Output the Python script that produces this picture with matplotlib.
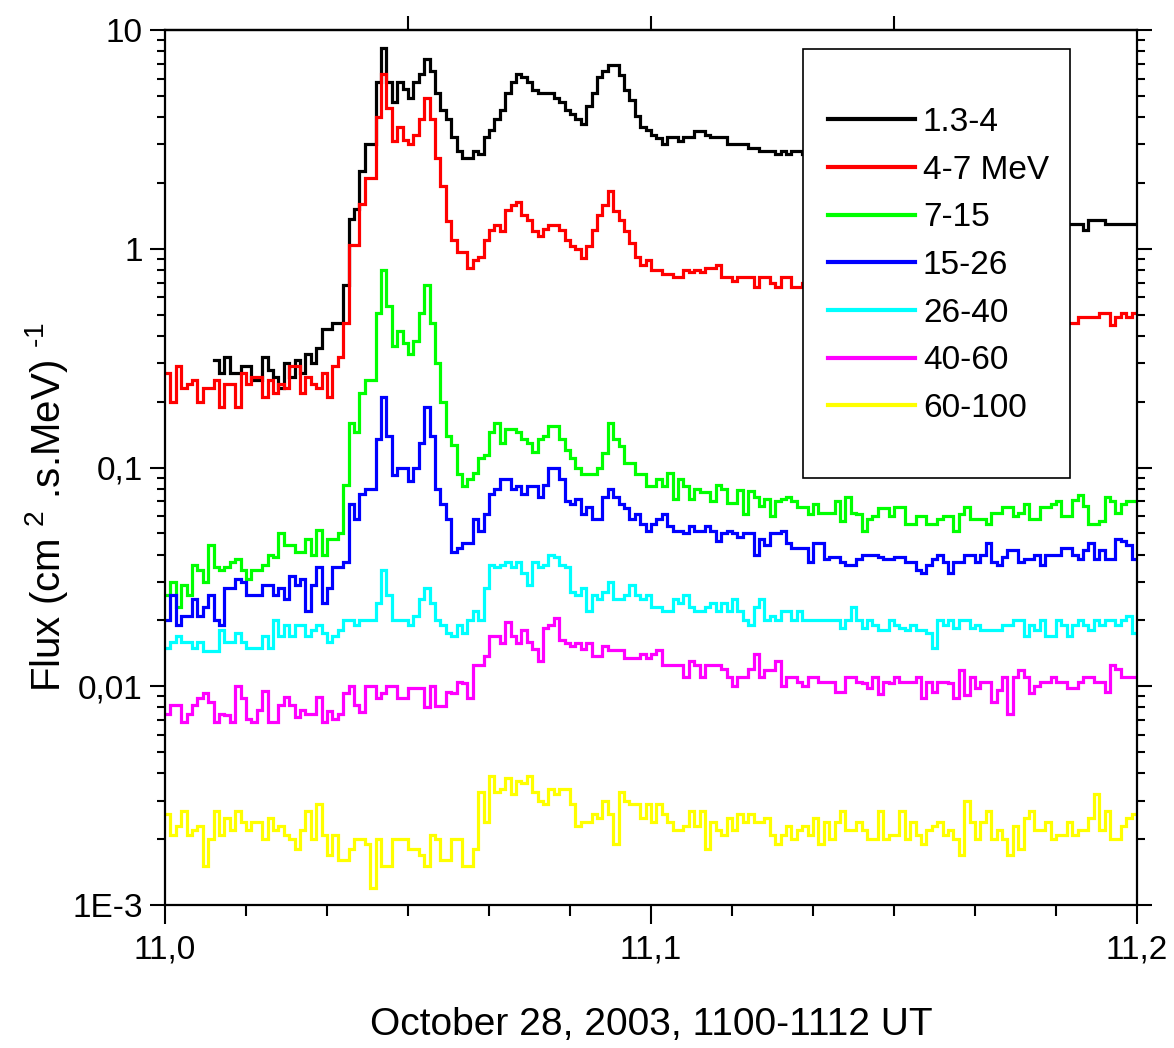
import numpy as np
import matplotlib
matplotlib.use("Agg")
import matplotlib.pyplot as plt
from matplotlib.patches import Rectangle
from matplotlib.ticker import FixedLocator, NullFormatter, FixedFormatter, LogLocator

plt.rcParams['font.family'] = ['Liberation Sans', 'DejaVu Sans']
plt.rcParams['mathtext.fontset'] = 'custom'
plt.rcParams['mathtext.rm'] = 'Liberation Sans'
plt.rcParams['mathtext.it'] = 'Liberation Sans'
plt.rcParams['mathtext.bf'] = 'Liberation Sans'

nan = np.nan

# ---- data (4-s bins, 11.0 h .. 11.2 h UT) ----
time_start = 11.0
time_end = 11.2

labels = ['1.3-4', '4-7 MeV', '7-15', '15-26', '26-40', '40-60', '60-100']
colors = ['#000000', '#FF0000', '#00FF00', '#0000FF', '#00FFFF', '#FF00FF', '#FFFF00']

flux_1_3_4 = [
    nan, nan, nan, nan, nan, nan, nan, nan, nan, 0.31,
    0.27, 0.32, 0.27, 0.27, 0.29, 0.29, 0.25, 0.25, 0.32, 0.28,
    0.26, 0.23, 0.30, 0.26, 0.31, 0.27, 0.33, 0.30, 0.35, 0.43,
    0.43, 0.46, 0.46, 0.68, 1.37, 1.52, 2.27, 3.0, 3.0, 5.8,
    8.3, 5.8, 4.7, 5.8, 5.4, 4.9, 5.8, 6.3, 7.4, 6.5,
    5.15, 4.3, 3.9, 3.25, 2.8, 2.6, 2.6, 2.8, 2.7, 3.25,
    3.5, 3.9, 4.3, 5.15, 5.8, 6.3, 6.1, 5.8, 5.3, 5.15,
    5.15, 5.15, 4.9, 4.7, 4.3, 4.15, 3.9, 3.7, 4.5, 5.15,
    6.1, 6.5, 6.9, 6.9, 6.2, 5.3, 4.8, 4.05, 3.6, 3.5,
    3.3, 3.2, 3.0, 3.25, 3.25, 3.1, 3.25, 3.25, 3.45, 3.45,
    3.3, 3.25, 3.25, 3.25, 3.0, 3.0, 3.0, 3.0, 2.9, 2.9,
    2.8, 2.8, 2.8, 2.7, 2.8, 2.7, 2.8, 2.8, 2.7, nan,
    nan, nan, nan, nan, nan, nan, nan, nan, nan, nan,
    nan, nan, nan, nan, nan, nan, nan, nan, nan, nan,
    nan, nan, nan, nan, nan, nan, nan, nan, nan, nan,
    nan, nan, nan, nan, nan, nan, nan, nan, nan, nan,
    nan, nan, nan, nan, nan, nan, nan, 1.3, 1.3, 1.3,
    1.22, 1.36, 1.36, 1.36, 1.3, 1.3, 1.3, 1.3, 1.3, 1.3,
]

flux_4_7 = [
    0.27, 0.2, 0.29, 0.23, 0.24, 0.25, 0.2, 0.23, 0.23, 0.25,
    0.19, 0.24, 0.24, 0.19, 0.27, 0.24, 0.26, 0.26, 0.21, 0.25,
    0.22, 0.24, 0.23, 0.29, 0.29, 0.22, 0.26, 0.24, 0.23, 0.27,
    0.21, 0.29, 0.32, 0.46, 1.04, 1.04, 1.6, 2.1, 2.1, 4.0,
    6.3, 4.4, 3.1, 3.6, 3.15, 3.0, 3.3, 3.9, 4.9, 3.9,
    2.6, 1.93, 1.34, 1.1, 0.97, 0.97, 0.82, 0.89, 0.92, 1.1,
    1.22, 1.28, 1.2, 1.5, 1.58, 1.63, 1.42, 1.35, 1.2, 1.14,
    1.23, 1.28, 1.28, 1.22, 1.1, 1.03, 1.0, 0.91, 1.03, 1.22,
    1.42, 1.58, 1.84, 1.49, 1.35, 1.2, 1.06, 0.92, 0.84, 0.89,
    0.8, 0.8, 0.77, 0.77, 0.74, 0.74, 0.8, 0.78, 0.8, 0.78,
    0.82, 0.82, 0.84, 0.74, 0.74, 0.71, 0.74, 0.74, 0.74, 0.67,
    0.74, 0.74, 0.7, 0.67, 0.74, 0.74, 0.67, 0.67, 0.7, nan,
    nan, nan, nan, nan, nan, nan, nan, nan, nan, nan,
    nan, nan, nan, nan, nan, nan, nan, nan, nan, nan,
    nan, nan, nan, nan, nan, nan, nan, nan, nan, nan,
    nan, nan, nan, nan, nan, nan, nan, nan, nan, nan,
    nan, nan, nan, nan, nan, nan, nan, 0.46, 0.46, 0.49,
    0.49, 0.49, 0.49, 0.51, 0.51, 0.45, 0.49, 0.51, 0.49, 0.51,
]

flux_7_15 = [
    0.026, 0.030, 0.023, 0.029, 0.026, 0.036, 0.034, 0.030, 0.044, 0.035,
    0.034, 0.035, 0.037, 0.038, 0.034, 0.031, 0.034, 0.034, 0.036, 0.040,
    0.039, 0.05, 0.044, 0.044, 0.041, 0.041, 0.047, 0.040, 0.052, 0.040,
    0.047, 0.047, 0.05, 0.083, 0.16, 0.145, 0.22, 0.25, 0.25, 0.51,
    0.8, 0.55, 0.36, 0.42, 0.37, 0.33, 0.38, 0.51, 0.68, 0.46,
    0.30, 0.2, 0.14, 0.127, 0.093, 0.082, 0.089, 0.094, 0.11, 0.114,
    0.146, 0.16, 0.13, 0.15, 0.15, 0.146, 0.135, 0.13, 0.118, 0.135,
    0.14, 0.155, 0.155, 0.135, 0.12, 0.11, 0.1, 0.093, 0.093, 0.093,
    0.1, 0.116, 0.16, 0.135, 0.125, 0.105, 0.105, 0.093, 0.093, 0.082,
    0.082, 0.089, 0.082, 0.094, 0.072, 0.089, 0.082, 0.072, 0.08, 0.077,
    0.077, 0.07, 0.083, 0.08, 0.069, 0.069, 0.079, 0.061, 0.078, 0.073,
    0.067, 0.072, 0.06, 0.07, 0.072, 0.073, 0.070, 0.066, 0.066, 0.061,
    0.068, 0.062, 0.062, 0.062, 0.07, 0.057, 0.073, 0.062, 0.061, 0.051,
    0.058, 0.06, 0.065, 0.065, 0.06, 0.066, 0.066, 0.055, 0.055, 0.06,
    0.06, 0.055, 0.055, 0.058, 0.06, 0.06, 0.051, 0.061, 0.066, 0.058,
    0.058, 0.058, 0.055, 0.062, 0.062, 0.066, 0.066, 0.06, 0.062, 0.068,
    0.058, 0.058, 0.066, 0.066, 0.068, 0.07, 0.06, 0.06, 0.071, 0.075,
    0.067, 0.055, 0.055, 0.057, 0.073, 0.07, 0.062, 0.068, 0.07, 0.07,
]

flux_15_26 = [
    0.020, 0.026, 0.019, 0.021, 0.021, 0.025, 0.021, 0.023, 0.026, 0.020,
    0.019, 0.028, 0.028, 0.031, 0.030, 0.026, 0.026, 0.026, 0.029, 0.029,
    0.026, 0.028, 0.025, 0.032, 0.029, 0.031, 0.022, 0.029, 0.035, 0.024,
    0.028, 0.035, 0.035, 0.037, 0.068, 0.058, 0.076, 0.08, 0.08, 0.135,
    0.21, 0.14, 0.092, 0.10, 0.1, 0.087, 0.1, 0.13, 0.19, 0.14,
    0.08, 0.068, 0.058, 0.041, 0.043, 0.045, 0.045, 0.058, 0.051, 0.061,
    0.076, 0.08, 0.089, 0.089, 0.08, 0.082, 0.076, 0.082, 0.082, 0.073,
    0.083, 0.1, 0.1, 0.089, 0.07, 0.068, 0.072, 0.061, 0.066, 0.058,
    0.058, 0.073, 0.08, 0.073, 0.068, 0.065, 0.058, 0.061, 0.055, 0.051,
    0.055, 0.058, 0.061, 0.054, 0.051, 0.051, 0.05, 0.054, 0.051, 0.051,
    0.054, 0.051, 0.046, 0.05, 0.051, 0.05, 0.048, 0.05, 0.05, 0.040,
    0.047, 0.044, 0.05, 0.05, 0.051, 0.045, 0.043, 0.043, 0.043, 0.037,
    0.045, 0.045, 0.038, 0.039, 0.039, 0.037, 0.036, 0.036, 0.038, 0.040,
    0.040, 0.040, 0.039, 0.038, 0.038, 0.039, 0.039, 0.037, 0.037, 0.034,
    0.033, 0.036, 0.038, 0.040, 0.037, 0.033, 0.037, 0.037, 0.040, 0.040,
    0.037, 0.040, 0.045, 0.037, 0.036, 0.039, 0.042, 0.042, 0.037, 0.038,
    0.038, 0.040, 0.036, 0.040, 0.040, 0.040, 0.043, 0.043, 0.040, 0.038,
    0.042, 0.045, 0.038, 0.042, 0.038, 0.038, 0.047, 0.046, 0.044, 0.038,
]

flux_26_40 = [
    0.015, 0.016, 0.017, 0.016, 0.016, 0.015, 0.016, 0.0145, 0.0145, 0.0145,
    0.018, 0.016, 0.016, 0.0175, 0.016, 0.015, 0.015, 0.015, 0.017, 0.015,
    0.020, 0.017, 0.019, 0.017, 0.019, 0.019, 0.017, 0.018, 0.019, 0.0175,
    0.016, 0.017, 0.018, 0.020, 0.020, 0.019, 0.020, 0.020, 0.020, 0.024,
    0.034, 0.026, 0.020, 0.020, 0.020, 0.019, 0.021, 0.025, 0.028, 0.024,
    0.020, 0.019, 0.0175, 0.017, 0.019, 0.0175, 0.020, 0.022, 0.020, 0.028,
    0.036, 0.035, 0.036, 0.037, 0.035, 0.037, 0.033, 0.029, 0.037, 0.035,
    0.036, 0.040, 0.039, 0.036, 0.035, 0.027, 0.026, 0.028, 0.022, 0.026,
    0.025, 0.027, 0.030, 0.025, 0.025, 0.026, 0.029, 0.026, 0.025, 0.026,
    0.023, 0.023, 0.022, 0.022, 0.025, 0.024, 0.026, 0.023, 0.022, 0.022,
    0.023, 0.024, 0.022, 0.024, 0.022, 0.025, 0.022, 0.020, 0.019, 0.023,
    0.025, 0.020, 0.021, 0.020, 0.022, 0.022, 0.020, 0.022, 0.020, 0.020,
    0.020, 0.020, 0.020, 0.020, 0.020, 0.0185, 0.020, 0.023, 0.020, 0.0185,
    0.020, 0.019, 0.018, 0.018, 0.020, 0.019, 0.0185, 0.018, 0.019, 0.018,
    0.018, 0.0175, 0.015, 0.020, 0.019, 0.020, 0.0185, 0.020, 0.020, 0.0185,
    0.019, 0.018, 0.018, 0.018, 0.018, 0.019, 0.019, 0.020, 0.020, 0.017,
    0.019, 0.018, 0.020, 0.017, 0.017, 0.020, 0.019, 0.017, 0.019, 0.020,
    0.019, 0.018, 0.020, 0.019, 0.020, 0.020, 0.019, 0.020, 0.021, 0.0175,
]

flux_40_60 = [
    0.0075, 0.0082, 0.0082, 0.0069, 0.0075, 0.0082, 0.0088, 0.0093, 0.0085, 0.0069,
    0.0075, 0.0074, 0.0069, 0.010, 0.0088, 0.0071, 0.0069, 0.0078, 0.0095, 0.0069,
    0.0069, 0.0082, 0.0089, 0.0082, 0.0072, 0.0078, 0.0075, 0.0075, 0.0089, 0.0069,
    0.0077, 0.0071, 0.0075, 0.0093, 0.010, 0.0082, 0.0076, 0.010, 0.010, 0.0088,
    0.0093, 0.010, 0.010, 0.0088, 0.0088, 0.0098, 0.0098, 0.0098, 0.0080, 0.010,
    0.0081, 0.0081, 0.0094, 0.0093, 0.0105, 0.0103, 0.0088, 0.0125, 0.0125, 0.0137,
    0.017, 0.017, 0.0158, 0.0197, 0.017, 0.0158, 0.018, 0.016, 0.0148, 0.013,
    0.0185, 0.019, 0.0205, 0.0163, 0.0158, 0.0152, 0.0158, 0.0148, 0.0158, 0.0137,
    0.0137, 0.0152, 0.0146, 0.0146, 0.0146, 0.0134, 0.0134, 0.0134, 0.014, 0.0134,
    0.014, 0.0146, 0.0125, 0.0125, 0.0125, 0.0125, 0.011, 0.013, 0.0125, 0.011,
    0.0125, 0.0125, 0.0125, 0.012, 0.011, 0.010, 0.011, 0.011, 0.012, 0.014,
    0.011, 0.0119, 0.0119, 0.013, 0.010, 0.011, 0.011, 0.0105, 0.010, 0.011,
    0.011, 0.0105, 0.0105, 0.0105, 0.0094, 0.0094, 0.011, 0.011, 0.0105, 0.0104,
    0.0098, 0.011, 0.0092, 0.0105, 0.0104, 0.011, 0.0105, 0.0105, 0.0105, 0.011,
    0.0088, 0.0105, 0.0094, 0.0105, 0.0105, 0.0103, 0.0088, 0.0119, 0.0091, 0.011,
    0.0098, 0.0105, 0.0105, 0.0085, 0.0096, 0.011, 0.0075, 0.011, 0.0119, 0.011,
    0.0093, 0.010, 0.0105, 0.0105, 0.011, 0.0105, 0.0105, 0.0098, 0.0098, 0.0105,
    0.011, 0.011, 0.0105, 0.0105, 0.0094, 0.0125, 0.012, 0.011, 0.011, 0.011,
]

flux_60_100 = [
    0.0026, 0.0021, 0.0023, 0.0027, 0.0021, 0.0022, 0.0023, 0.0015, 0.0020, 0.0027,
    0.0021, 0.0025, 0.0022, 0.0027, 0.0024, 0.0022, 0.0024, 0.0024, 0.0020, 0.0025,
    0.0022, 0.0023, 0.0021, 0.0020, 0.0018, 0.0022, 0.0027, 0.0020, 0.0029, 0.0021,
    0.0017, 0.0021, 0.0016, 0.0016, 0.0018, 0.0020, 0.0020, 0.0019, 0.0012, 0.0020,
    0.0015, 0.0015, 0.0020, 0.0020, 0.0020, 0.0018, 0.0018, 0.0017, 0.0015, 0.0021,
    0.0020, 0.0016, 0.0016, 0.0020, 0.0020, 0.0015, 0.0015, 0.0018, 0.0033, 0.0024,
    0.0039, 0.0033, 0.0034, 0.0038, 0.0032, 0.0037, 0.0036, 0.0039, 0.0033, 0.0030,
    0.0029, 0.0034, 0.0032, 0.0034, 0.0034, 0.0029, 0.0023, 0.0024, 0.0024, 0.0026,
    0.0025, 0.0030, 0.0026, 0.0019, 0.0033, 0.0030, 0.0029, 0.0029, 0.0025, 0.0029,
    0.0024, 0.0029, 0.0026, 0.0024, 0.0022, 0.0022, 0.0023, 0.0027, 0.0023, 0.0027,
    0.0018, 0.0024, 0.0022, 0.0021, 0.0025, 0.0022, 0.0026, 0.0024, 0.0026, 0.0024,
    0.0024, 0.0025, 0.0021, 0.0019, 0.0021, 0.0023, 0.0020, 0.0022, 0.0023, 0.0021,
    0.0025, 0.0019, 0.0024, 0.0020, 0.0024, 0.0027, 0.0022, 0.0022, 0.0024, 0.0022,
    0.0020, 0.0020, 0.0027, 0.0020, 0.0021, 0.0021, 0.0027, 0.0020, 0.0024, 0.0021,
    0.0019, 0.0022, 0.0023, 0.0024, 0.0021, 0.0022, 0.0020, 0.0017, 0.0030, 0.0024,
    0.0020, 0.0024, 0.0027, 0.0020, 0.0022, 0.0020, 0.0017, 0.0023, 0.0018, 0.0025,
    0.0027, 0.0022, 0.0022, 0.0024, 0.0020, 0.0021, 0.0021, 0.0024, 0.0021, 0.0022,
    0.0022, 0.0025, 0.0032, 0.0022, 0.0027, 0.0020, 0.0020, 0.0023, 0.0025, 0.0026,
]

series = [flux_1_3_4, flux_4_7, flux_7_15, flux_15_26, flux_26_40, flux_40_60, flux_60_100]

x_major = [11.0, 11.1, 11.2]
x_major_labels = ['11,0', '11,1', '11,2']
y_major = [1e-3, 1e-2, 1e-1, 1, 10]
y_major_labels = ['1E-3', '0,01', '0,1', '1', '10']
top_ticks = [11.05, 11.1, 11.15]

# ---- figure ----
fig = plt.figure(figsize=(11.74, 10.48), dpi=100)
ax = fig.add_axes([165 / 1174, 1 - 905 / 1048, 972 / 1174, 875 / 1048])

handles = []
for vals, col, lab in zip(series, colors, labels):
    v = np.asarray(vals, dtype=float)
    n = len(v)
    edges = np.linspace(time_start, time_end, n + 1)
    ys = np.append(v, v[-1])
    h, = ax.plot(edges, ys, drawstyle='steps-post', color=col, lw=2.3,
                 label=lab, zorder=2, solid_joinstyle='miter')
    handles.append(h)

ax.set_yscale('log')
ax.set_xlim(time_start, time_end)
ax.set_ylim(1e-3, 10)

ax.xaxis.set_major_locator(FixedLocator(x_major))
ax.xaxis.set_major_formatter(FixedFormatter(x_major_labels))
ax.xaxis.set_minor_locator(FixedLocator(np.arange(11.0, 11.2001, 0.2 / 12)))
ax.yaxis.set_major_locator(FixedLocator(y_major))
ax.yaxis.set_major_formatter(FixedFormatter(y_major_labels))
ax.yaxis.set_minor_locator(LogLocator(base=10, subs=np.arange(2, 10), numticks=20))
ax.yaxis.set_minor_formatter(NullFormatter())

ax.tick_params(axis='x', which='major', direction='out', length=14, width=1.5,
               labelsize=24, pad=7, top=False)
ax.tick_params(axis='x', which='minor', direction='out', length=8, width=1.5, top=False)
ax.tick_params(axis='y', which='major', direction='out', length=11, width=1.5,
               labelsize=24, pad=5, left=True, right=True)
ax.tick_params(axis='y', which='minor', direction='out', length=6, width=1.5,
               left=True, right=True)

secx = ax.secondary_xaxis('top')
secx.set_xticks(top_ticks)
secx.set_xticklabels([])
secx.tick_params(direction='out', length=10, width=1.5)
secx.spines['top'].set_linewidth(1.6)

for s in ax.spines.values():
    s.set_linewidth(1.6)

ax.set_xlabel('October 28, 2003, 1100-1112 UT', fontsize=28)
ax.xaxis.set_label_coords(0.5, -0.116)
ax.xaxis.label.set_va('top')
ax.set_ylabel(r'Flux (cm $^{2}$ .s.MeV) $^{\text{-1}}$', fontsize=29)
ax.yaxis.set_label_coords(-0.098, 0.455)

# legend box (opaque, hides the lines beneath it)
box = Rectangle((0.656, 0.488), 0.931 - 0.656, 0.978 - 0.488, transform=ax.transAxes,
                facecolor='white', edgecolor='black', lw=1.2, zorder=4)
ax.add_patch(box)
leg = ax.legend(handles=handles, loc='upper left', bbox_to_anchor=(0.682, 0.912),
                frameon=False, fontsize=24, handlelength=2.6, handletextpad=0.25,
                labelspacing=0.5, borderpad=0, borderaxespad=0)
leg.set_zorder(5)
for lh in leg.get_lines():
    lh.set_linewidth(3)

fig.savefig('out.png', dpi=100)
